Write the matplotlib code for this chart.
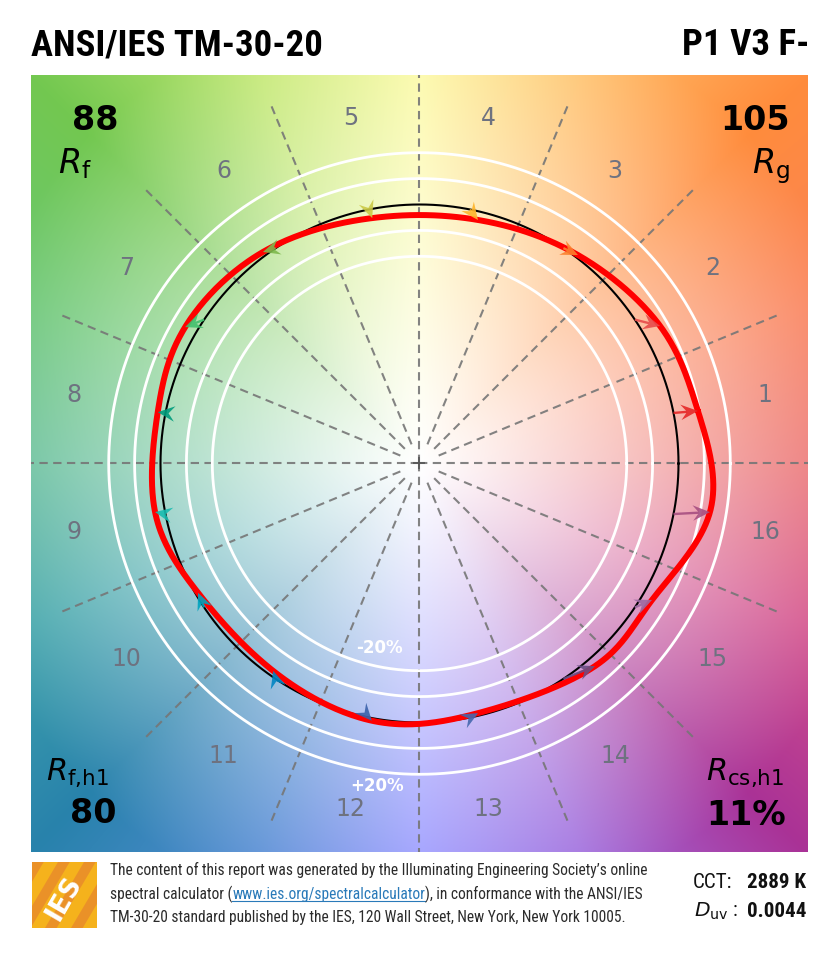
import numpy as np
import matplotlib
matplotlib.use("Agg")
import matplotlib.pyplot as plt
from matplotlib import font_manager
from matplotlib.patches import Polygon, Rectangle

# ---------------- data ----------------
bins = [1, 2, 3, 4, 5, 6, 7, 8, 9, 10, 11, 12, 13, 14, 15, 16]
ref_hue_deg = [11.25, 33.75, 56.25, 78.75, 101.25, 123.75, 146.25, 168.75,
               191.25, 213.75, 236.25, 258.75, 281.25, 303.75, 326.25, 348.75]
test_chroma_ratio = [1.094, 1.070, 1.011, 0.967, 0.965, 1.016, 1.047, 1.030,
                     1.038, 0.990, 0.980, 1.010, 0.990, 1.035, 1.041, 1.137]
test_hue_deg = [10.7, 29.75, 52.75, 76.5, 100.9, 126.5, 149.8, 168.9,
                190.4, 210.3, 234.8, 259.5, 283.2, 310.9, 329.6, 350.5]
bin_colors = ["#e62828", "#e74b4b", "#fb812e", "#ffb529", "#cbca46", "#7eb94c",
              "#41c06d", "#009c7c", "#16bcb0", "#00a4bf", "#0085c3", "#3b62aa",
              "#4568ae", "#6a4e85", "#9d69a1", "#a74f81"]
ring_radii = [0.8, 0.9, 1.1, 1.2]
Rf, Rg, Rf_h1, Rcs_h1 = 88, 105, 80, 11
CCT, Duv = 2889, 0.0044
title_left = "ANSI/IES TM-30-20"
title_right = "P1 V3 F-"
footer_lines = ["The content of this report was generated by the Illuminating Engineering Society\u2019s online",
                "spectral calculator (", "www.ies.org/spectralcalculator", "), in conformance with the ANSI/IES",
                "TM-30-20 standard published by the IES, 120 Wall Street, New York, New York 10005."]

# background hue anchors (angle deg, rgb)
bg_ang = [0, 22.5, 45, 67.5, 90, 112.5, 135, 157.5, 180, 202.5, 225, 247.5, 270, 292.5, 315, 337.5, 360]
bg_rgb = [(235, 110, 110), (250, 130, 90), (255, 140, 60), (255, 195, 110), (252, 250, 160),
          (195, 232, 115), (115, 200, 80), (105, 198, 115), (95, 188, 150), (65, 165, 170),
          (40, 130, 172), (85, 140, 212), (148, 148, 255), (160, 110, 222), (170, 50, 150),
          (212, 82, 140), (235, 110, 110)]

# ---------------- fonts ----------------
names = {f.name for f in font_manager.fontManager.ttflist}
def pick(*cands):
    for c in cands:
        if c in names:
            return c
    return "DejaVu Sans"
title_font = pick("Roboto Condensed", "Roboto", "Liberation Sans Narrow")
narrow_font = pick("Liberation Sans Narrow", "Roboto Condensed", "Roboto")

W, H = 839, 960
fig = plt.figure(figsize=(W / 100, H / 100), dpi=100)
renderer = fig.canvas.get_renderer()

def fx(px):
    return px / W
def fy(py):
    return 1 - py / H

# main axes: square from (31,75) to (808,852) px
ax = fig.add_axes([fx(31), fy(852), 777 / W, 777 / H])
ax.set_xlim(-1.5, 1.5)
ax.set_ylim(-1.5, 1.5)
ax.set_aspect("equal")
ax.axis("off")

# background
N = 500
g = np.linspace(-1.5, 1.5, N)
X, Y = np.meshgrid(g, g)
theta = np.degrees(np.arctan2(Y, X)) % 360
rgb = np.array(bg_rgb) / 255.0
anchor = np.stack([np.interp(theta, bg_ang, rgb[:, k]) for k in range(3)], axis=-1)
rho = np.hypot(X, Y)
s = np.clip(rho / 1.8, 0, 1) ** 1.1
img = 1 - (1 - anchor) * s[..., None]
ax.imshow(img, extent=(-1.5, 1.5, -1.5, 1.5), origin="lower", interpolation="bilinear", zorder=0)

# dashed radial lines
for k in range(16):
    a = np.radians(k * 22.5)
    r0 = 0.0 if k % 4 == 0 else 0.08
    ax.plot([r0 * np.cos(a), 1.5 * np.cos(a)], [r0 * np.sin(a), 1.5 * np.sin(a)],
            color="#767676", lw=1.5, ls=(0, (4, 2.6)), zorder=2, alpha=0.9)
ax.plot([0], [0], marker="+", color="#555555", ms=8, mew=1.2, zorder=2)

# rings
tt = np.linspace(0, 2 * np.pi, 721)
for rr in ring_radii:
    ax.plot(rr * np.cos(tt), rr * np.sin(tt), color="white", lw=2.0, zorder=3)
ax.plot(np.cos(tt), np.sin(tt), color="black", lw=1.5, zorder=4)

# test points
ht = np.radians(test_hue_deg)
cr = np.array(test_chroma_ratio)
P = np.stack([cr * np.cos(ht), cr * np.sin(ht)], axis=1)
n = len(P)
A = np.zeros((n, n))
for i in range(n):
    A[i, i] = 4
    A[i, (i - 1) % n] = 1
    A[i, (i + 1) % n] = 1
rhs = 6 * (np.roll(P, -1, axis=0) - 2 * P + np.roll(P, 1, axis=0))
M = np.linalg.solve(A, rhs)
curve = []
ts = np.linspace(0, 1, 40, endpoint=False)
for i in range(n):
    j = (i + 1) % n
    for t in ts:
        pt = (1 - t) * P[i] + t * P[j] + ((1 - t) ** 3 - (1 - t)) * M[i] / 6 + (t ** 3 - t) * M[j] / 6
        curve.append(pt)
curve.append(curve[0])
curve = np.array(curve)
ax.plot(curve[:, 0], curve[:, 1], color="#ff0000", lw=4.3, zorder=5, solid_capstyle="round")

# arrows
hr = np.radians(ref_hue_deg)
hl, hw, notch = 0.066, 0.03, 0.024
for i in range(n):
    ref = np.array([np.cos(hr[i]), np.sin(hr[i])])
    tip = P[i]
    v = tip - ref
    L = np.hypot(*v)
    u = v / L if L > 1e-6 else np.array([-np.sin(hr[i]), np.cos(hr[i])])
    nrm = np.array([-u[1], u[0]])
    base = tip - (hl - notch) * u
    if L > hl - notch:
        ax.plot([ref[0], base[0]], [ref[1], base[1]], color=bin_colors[i], lw=1.7, zorder=6,
                solid_capstyle="butt", alpha=0.9)
    head = [tip, tip - hl * u + hw * nrm, base, tip - hl * u - hw * nrm]
    ax.add_patch(Polygon(head, closed=True, facecolor=bin_colors[i], edgecolor="none", zorder=7, alpha=0.9))

# bin labels
for i in range(n):
    a = hr[i]
    ax.text(1.36 * np.cos(a), 1.36 * np.sin(a), str(bins[i]), ha="center", va="center",
            fontsize=17, color="#6e7280", zorder=8, family="DejaVu Sans")

ax.text(-0.153, -0.712, "-20%", color="white", fontsize=12, fontweight="bold", ha="center", va="center", zorder=8)
ax.text(-0.165, -1.245, "+20%", color="white", fontsize=12, fontweight="bold", ha="center", va="center", zorder=8)

# corner texts (figure coords)
fig.text(fx(72), fy(130), str(Rf), fontsize=24, fontweight="bold", ha="left", va="baseline")
fig.text(fx(58), fy(173), r"$R_{\mathrm{f}}$", fontsize=24, ha="left", va="baseline")
fig.text(fx(790), fy(130), str(Rg), fontsize=24, fontweight="bold", ha="right", va="baseline")
fig.text(fx(790), fy(173), r"$R_{\mathrm{g}}$", fontsize=24, ha="right", va="baseline")
fig.text(fx(46), fy(780), r"$R_{\mathrm{f{,}h1}}$", fontsize=22, ha="left", va="baseline")
fig.text(fx(70), fy(823), str(Rf_h1), fontsize=24, fontweight="bold", ha="left", va="baseline")
fig.text(fx(784), fy(780), r"$R_{\mathrm{cs{,}h1}}$", fontsize=22, ha="right", va="baseline")
fig.text(fx(786), fy(825), f"{Rcs_h1}%", fontsize=24, fontweight="bold", ha="right", va="baseline")

# titles
t1 = fig.text(fx(31), fy(55), title_left, fontsize=24, fontweight="bold", family=title_font,
              ha="left", va="baseline")
bb = t1.get_window_extent(renderer)
fs_title = 24 * 292 / bb.width
t1.set_fontsize(fs_title)
fig.text(fx(809), fy(55), title_right, fontsize=fs_title, fontweight="bold", family=title_font,
         ha="right", va="baseline")

# footer
txt_color = "#2b2b2b"
f1 = fig.text(fx(110), fy(875), footer_lines[0], fontsize=10, family=narrow_font, color=txt_color,
              ha="left", va="baseline")
bb = f1.get_window_extent(renderer)
fs_foot = 10 * 538 / bb.width
f1.set_fontsize(fs_foot)
xcur = 110
pieces = [(footer_lines[1], txt_color), (footer_lines[2], "#2a7ab9"), (footer_lines[3], txt_color)]
for s_, c_ in pieces:
    tx = fig.text(fx(xcur), fy(899), s_, fontsize=fs_foot, family=narrow_font, color=c_,
                  ha="left", va="baseline")
    b = tx.get_window_extent(renderer)
    if c_ != txt_color:
        fig.add_artist(plt.Line2D([fx(xcur), fx(xcur + b.width)], [fy(901), fy(901)],
                                  color=c_, lw=0.8, transform=fig.transFigure))
    xcur += b.width
fig.text(fx(110), fy(922), footer_lines[4], fontsize=fs_foot, family=narrow_font, color=txt_color,
         ha="left", va="baseline")

fig.text(fx(693), fy(888), "CCT:", fontsize=fs_foot * 1.35, family=narrow_font, color="#111111",
         ha="left", va="baseline")
fig.text(fx(806), fy(888), f"{CCT} K", fontsize=fs_foot * 1.35, family=narrow_font, fontweight="bold",
         color="#111111", ha="right", va="baseline")
fig.text(fx(694), fy(917), r"$D_{\mathrm{uv}}$ :", fontsize=fs_foot * 1.3, family=narrow_font,
         color="#111111", ha="left", va="baseline")
fig.text(fx(806), fy(917), f"{Duv:.4f}", fontsize=fs_foot * 1.35, family=narrow_font, fontweight="bold",
         color="#111111", ha="right", va="baseline")

# IES logo
lax = fig.add_axes([fx(32), fy(928), 65 / W, 66 / H])
lax.set_xlim(0, 1)
lax.set_ylim(0, 1)
lax.axis("off")
lax.add_patch(Rectangle((0, 0), 1, 1, facecolor="#f5b21c", edgecolor="none"))
for off in [-0.6, -0.2, 0.2, 0.6]:
    stripe = Polygon([(off, 0), (off + 0.18, 0), (off + 0.18 + 0.6, 1), (off + 0.6, 1)],
                     closed=True, facecolor="#e8892c", edgecolor="none", alpha=0.8)
    stripe.set_clip_path(lax.patch)
    lax.add_patch(stripe)
lax.text(0.5, 0.45, "IES", rotation=60, color="white", fontsize=19, fontweight="bold",
         ha="center", va="center", family="DejaVu Sans")

fig.savefig("out.png", dpi=100)
